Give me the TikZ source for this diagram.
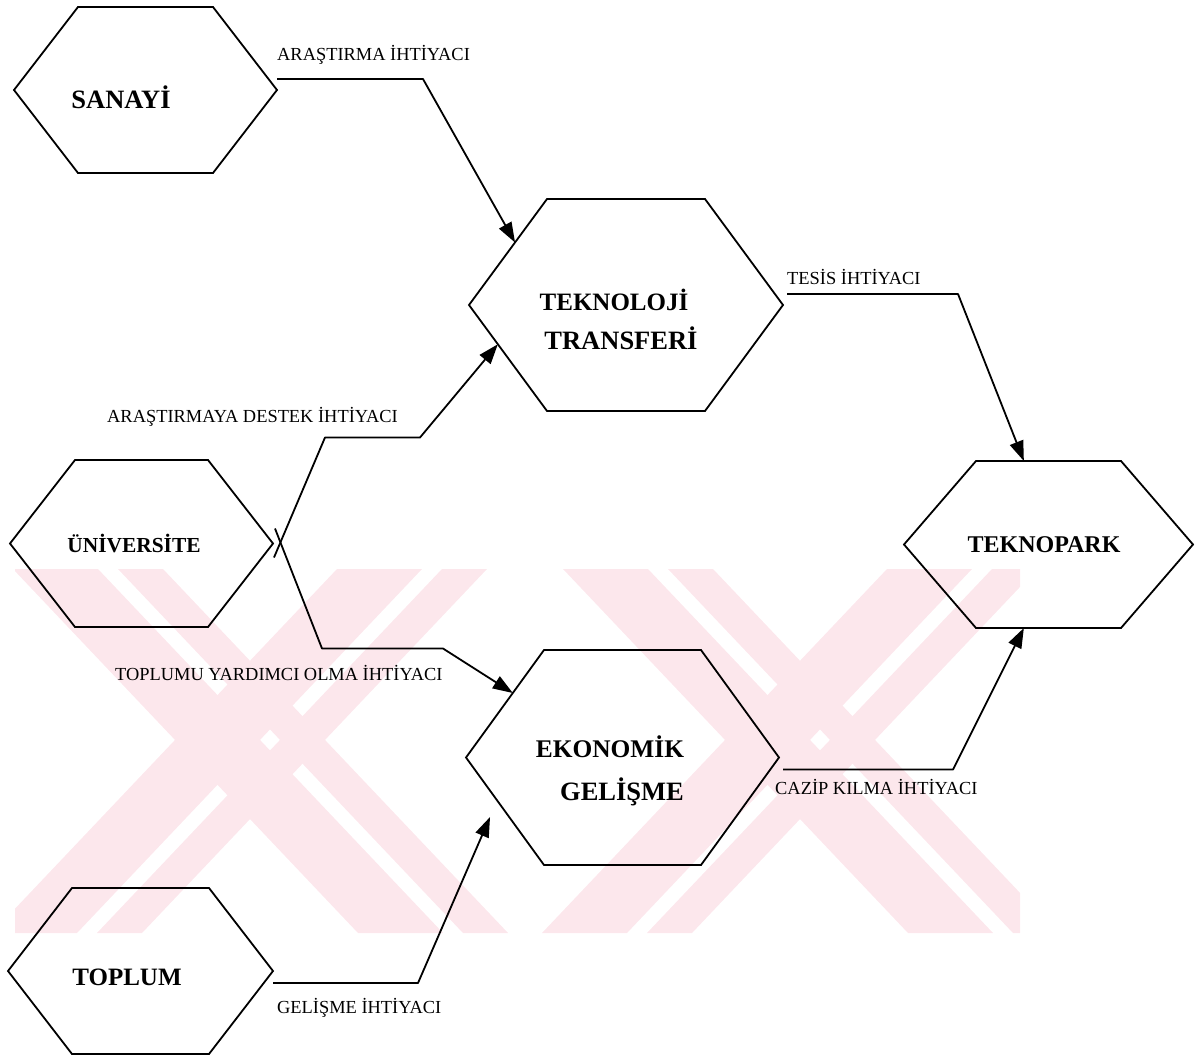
\documentclass[tikz,border=0pt]{standalone}
\usepackage{fontspec}
\setmainfont{Liberation Serif}
\usetikzlibrary{calc,arrows.meta}

\definecolor{markpink}{RGB}{252,231,236}

\tikzset{
  hexbox/.style={draw=none, inner sep=0pt, outer sep=0pt},
  hexline/.style={line width=1.8pt, line join=miter},
  title/.style={font=\bfseries\fontsize{25}{30}\selectfont, inner sep=0pt},
  need/.style={font=\fontsize{18.4}{22}\selectfont, inner sep=0pt, anchor=west},
  link/.style={line width=1.8pt, line join=round, -{Triangle[length=20pt,width=14pt]}},
}

% hexagon outline on a box node: corner points are stored as <name>-w, -nw, -ne, -e, -se, -sw
\newcommand\hexframe[2]{%
  \coordinate (#1-w) at (#1.west);
  \coordinate (#1-e) at (#1.east);
  \coordinate (#1-nw) at ([xshift=#2]#1.north west);
  \coordinate (#1-ne) at ([xshift=-#2]#1.north east);
  \coordinate (#1-sw) at ([xshift=#2]#1.south west);
  \coordinate (#1-se) at ([xshift=-#2]#1.south east);
  \draw[hexline] (#1-w) -- (#1-nw) -- (#1-ne) -- (#1-e) -- (#1-se) -- (#1-sw) -- cycle;
}

% one slanted band of the background mark: top x-range, bottom x-range
\newcommand\markband[4]{%
  \fill[markpink] (#1,569) -- (#2,569) -- (#4,933) -- (#3,933) -- cycle;
}

\begin{document}
\begin{tikzpicture}[x=1pt, y=-1pt]
\useasboundingbox (0,0) rectangle (1199,1057);

% faint striped mark in the background
\begin{scope}
  \clip (15,569) rectangle (1020,933);
  % left cross
  \markband{13}{98}{358}{443}
  \markband{118}{163}{463}{508}
  \markband{337}{422}{-8}{77}
  \markband{442}{487}{97}{142}
  % right cross
  \markband{563}{648}{908}{993}
  \markband{668}{713}{1013}{1058}
  \markband{887}{972}{542}{627}
  \markband{992}{1037}{647}{692}
\end{scope}

% hexagons
\node[hexbox, minimum width=263, minimum height=166] (san) at (145.5,90) {};
\hexframe{san}{64}
\node[hexbox, minimum width=314, minimum height=212] (tek) at (626,305) {};
\hexframe{tek}{78}
\node[hexbox, minimum width=263, minimum height=167] (uni) at (141.5,543.5) {};
\hexframe{uni}{65}
\node[hexbox, minimum width=289, minimum height=167] (park) at (1048.5,544.5) {};
\hexframe{park}{72}
\node[hexbox, minimum width=313, minimum height=215] (eko) at (622.5,757.5) {};
\hexframe{eko}{78}
\node[hexbox, minimum width=265, minimum height=166] (top) at (140.5,971) {};
\hexframe{top}{64}

% titles
\node[title, font=\bfseries\fontsize{26.5}{30}\selectfont] (sanT) at (121,97) {SANAYİ};
\node[title] (tekT1) at (614,300) {TEKNOLOJİ};
\node[title, font=\bfseries\fontsize{26.5}{30}\selectfont] (tekT2) at (621,338) {TRANSFERİ};
\node[title, font=\bfseries\fontsize{21.4}{26}\selectfont] (uniT) at (134,543) {ÜNİVERSİTE};
\node[title, font=\bfseries\fontsize{24}{28}\selectfont] (parkT) at (1044,545) {TEKNOPARK};
\node[title, font=\bfseries\fontsize{25.4}{30}\selectfont] (ekoT1) at (610,747) {EKONOMİK};
\node[title, font=\bfseries\fontsize{26.5}{30}\selectfont] (ekoT2) at (622,792) {GELİŞME};
\node[title] (topT) at (127,977) {TOPLUM};

% needs
\node[need] (n1) at (277,55) {ARAŞTIRMA İHTİYACI};
\node[need] (n2) at (787,277) {TESİS İHTİYACI};
\node[need] (n3) at (107,417) {ARAŞTIRMAYA DESTEK İHTİYACI};
\node[need] (n4) at (115,673) {TOPLUMU YARDIMCI OLMA İHTİYACI};
\node[need] (n5) at (775,787) {CAZİP KILMA İHTİYACI};
\node[need] (n6) at (277,1008) {GELİŞME İHTİYACI};

% connectors
\draw[link] ($(san-e)+(0,-11)$) -- ++(146,0) -- ($(tek-w)!0.59!(tek-nw)$);
\draw[link] ($(tek-e)+(4,-11)$) -- ++(171,0) -- ($(park-nw)!0.33!(park-ne)$);
\draw[link] ($(uni-e)+(1,14)$) -- ++(51,-120) -- ++(95,0) -- ($(tek-w)!0.37!(tek-sw)$);
\draw[link] ($(uni-e)+(2,-15)$) -- ++(47,120) -- ++(121,0) -- ($(eko-w)!0.6!(eko-nw)$);
\draw[link, shorten >=18pt] ($(top-e)+(0,12)$) -- ++(145,0) -- ($(eko-w)!0.4!(eko-sw)$);
\draw[link] ($(eko-e)+(4,12)$) -- ++(170,0) -- ($(park-sw)!0.33!(park-se)$);
\end{tikzpicture}
\end{document}
